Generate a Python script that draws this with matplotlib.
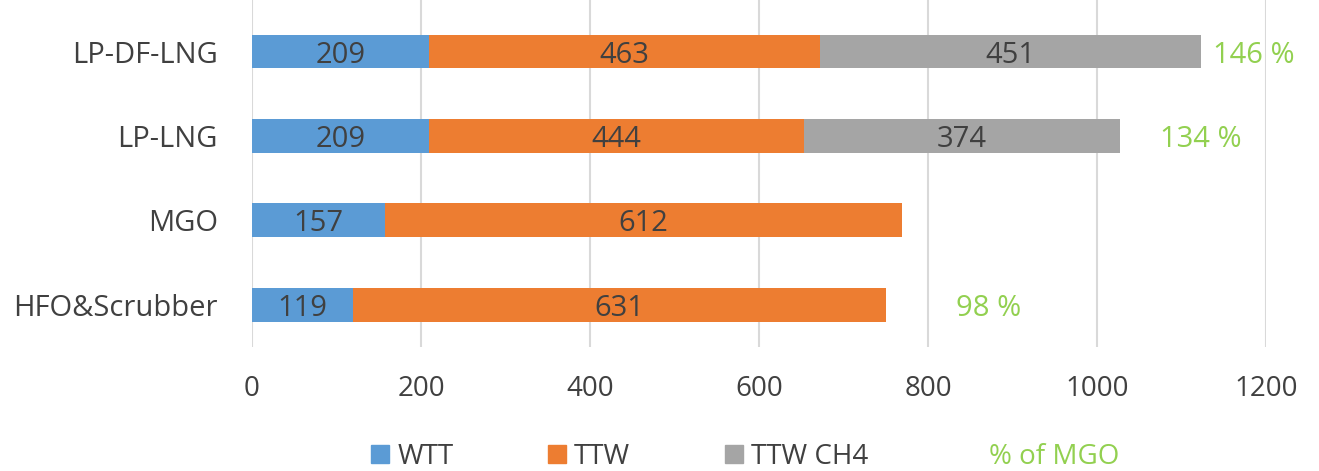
import matplotlib.pyplot as plt
import matplotlib.patches as mpatches

# data, bottom to top
categories = ['HFO&Scrubber', 'MGO', 'LP-LNG', 'LP-DF-LNG']
wtt = [119, 157, 209, 209]
ttw = [631, 612, 444, 463]
ttw_ch4 = [0, 0, 374, 451]
pct_of_mgo = [98, None, 134, 146]
xticks = [0, 200, 400, 600, 800, 1000, 1200]

# where the % labels sit (x in data units)
pct_x = [872, None, 1123, 1185]

BLUE = '#5B9BD5'
ORANGE = '#ED7D31'
GRAY = '#A5A5A5'
GREEN = '#92D050'
TEXT = '#404040'

plt.rcParams['font.family'] = ['Open Sans', 'DejaVu Sans']
FS = 21

fig = plt.figure(figsize=(13.19, 4.71), dpi=100)
ax = fig.add_axes([252 / 1319, 1 - 347 / 471, (1266 - 252) / 1319, 347 / 471])

y = list(range(len(categories)))
h = 0.4
left2 = [a + b for a, b in zip(wtt, ttw)]
ax.barh(y, wtt, height=h, color=BLUE, zorder=2)
ax.barh(y, ttw, left=wtt, height=h, color=ORANGE, zorder=2)
ax.barh(y, ttw_ch4, left=left2, height=h, color=GRAY, zorder=2)

lab = dict(ha='center', va='center_baseline', fontsize=FS, color=TEXT)
for i in y:
    ax.text(wtt[i] / 2, i, str(wtt[i]), **lab)
    ax.text(wtt[i] + ttw[i] / 2, i, str(ttw[i]), **lab)
    if ttw_ch4[i]:
        ax.text(left2[i] + ttw_ch4[i] / 2, i, str(ttw_ch4[i]), **lab)
    if pct_of_mgo[i] is not None:
        ax.text(pct_x[i], i, f'{pct_of_mgo[i]} %', ha='center', va='center_baseline',
                fontsize=FS, color=GREEN, clip_on=False)

ax.set_xlim(0, 1200)
ax.set_ylim(-0.5, 3.61)
ax.set_xticks(xticks)
ax.set_xticklabels([str(t) for t in xticks], fontsize=20, color=TEXT)
ax.set_yticks(y)
ax.set_yticklabels(categories, fontsize=FS, color=TEXT, va='center_baseline')
ax.tick_params(axis='both', length=0)
ax.tick_params(axis='x', pad=20)
ax.tick_params(axis='y', pad=24.5)
ax.grid(axis='x', color='#D9D9D9', linewidth=1.5, zorder=0)
ax.set_axisbelow(True)
for s in ax.spines.values():
    s.set_visible(False)

handles = [mpatches.Patch(color=BLUE, label='WTT'),
           mpatches.Patch(color=ORANGE, label='TTW'),
           mpatches.Patch(color=GRAY, label='TTW CH4'),
           mpatches.Patch(color='none', label='% of MGO')]
leg = fig.legend(handles=handles, loc='center', bbox_to_anchor=(0.565, 0.03), ncol=4,
                 frameon=False, handlelength=0.65, handleheight=0.65, handletextpad=0.3,
                 columnspacing=3.4, prop={'size': 20})
for t in leg.get_texts():
    t.set_color(TEXT)
leg.get_texts()[3].set_color(GREEN)
leg.legend_handles[3].set_visible(False)

fig.savefig('out.png', dpi=100)
